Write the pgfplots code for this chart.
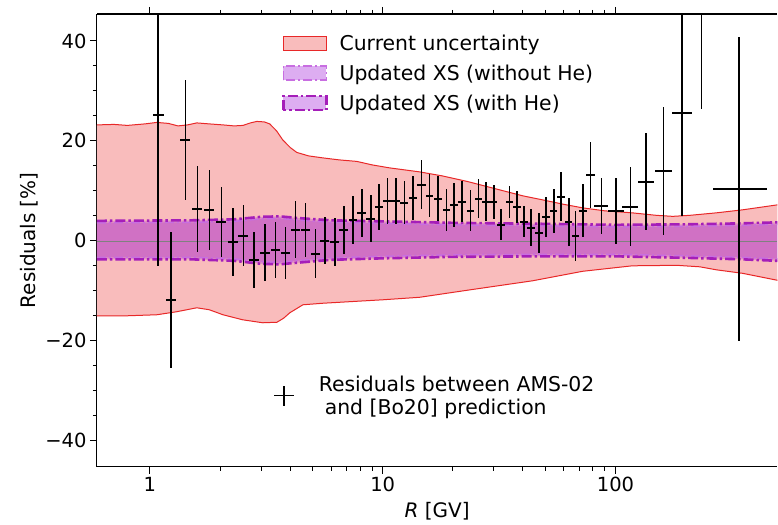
\documentclass[border=0pt]{standalone}
\usepackage{fontspec}
\setmainfont{DejaVu Sans}
\usepackage{pgfplots}
\pgfplotsset{compat=1.18}
\usepackage{pgfplotstable}
\usepgfplotslibrary{fillbetween}

\definecolor{bandred}{RGB}{249,188,188}
\definecolor{edgered}{RGB}{232,40,40}
\definecolor{xsviolet}{RGB}{148,0,211}
\definecolor{lineA}{RGB}{200,110,225}
\definecolor{lineB}{RGB}{165,30,185}

\pgfplotstableread{
R y ey exm exp
1.08 25.2 30.3 0.05 0.07
1.23 -11.8 13.6 0.06 0.06
1.42 20.2 12.0 0.07 0.07
1.60 6.4 8.6 0.08 0.08
1.80 6.2 8.0 0.09 0.09
2.03 3.8 7.0 0.10 0.10
2.28 -0.2 6.8 0.11 0.11
2.52 1.0 6.1 0.12 0.12
2.80 -3.8 5.6 0.13 0.13
3.12 -2.4 5.7 0.15 0.15
3.46 -1.8 5.6 0.16 0.16
3.82 -2.4 5.2 0.18 0.18
4.22 2.2 5.7 0.19 0.19
4.66 2.2 5.4 0.21 0.21
5.14 -2.6 4.9 0.23 0.23
5.64 0.0 4.7 0.25 0.25
6.22 -0.2 4.8 0.28 0.28
6.80 2.2 4.8 0.30 0.30
7.46 4.2 4.8 0.33 0.33
8.15 5.6 4.8 0.36 0.36
8.89 4.4 4.7 0.39 0.39
9.64 6.8 4.6 0.42 0.42
10.5 8.0 4.6 0.45 0.45
11.4 8.0 4.6 0.48 0.48
12.4 7.6 4.3 0.50 0.50
13.5 8.6 4.4 0.55 0.55
14.7 11.2 4.9 0.60 0.60
15.9 9.0 4.3 0.60 0.60
17.3 8.4 4.5 0.65 0.65
18.8 6.2 4.2 0.70 0.70
20.2 7.2 4.4 0.75 0.75
21.9 7.8 4.1 0.80 0.80
23.8 6.0 4.1 0.90 0.90
25.8 8.4 3.9 0.95 0.95
27.8 7.8 3.9 1.0 1.0
30.0 7.8 3.4 1.1 1.1
32.3 3.2 3.1 1.2 1.2
35.1 7.8 3.2 1.3 1.3
37.7 6.8 3.2 1.4 1.4
40.4 3.8 3.1 1.5 1.5
43.4 2.6 3.7 1.6 1.6
46.9 1.6 4.0 1.7 1.7
50.4 4.8 4.0 1.9 1.9
54.3 6.0 4.4 2.0 2.0
58.4 8.8 4.9 2.2 2.2
63.0 3.8 4.8 2.3 2.3
67.4 1.0 5.0 2.5 2.5
72.4 6.0 5.3 2.7 2.7
78.2 13.2 6.6 3.5 3.5
86.9 7.0 5.6 5.8 5.8
100.7 6.0 6.6 8 8
115.9 6.8 7.9 9 9
135.4 11.8 9.7 11 11
161 14.0 12.8 13.5 13.5
193 25.6 20.6 19 19
234 52 25.6 20 20
340 10.4 30.4 79 109
}\resdata

\begin{document}
\begin{tikzpicture}
\begin{axis}[
  at={(0pt,0pt)}, anchor=south west,
  width=681pt, height=453pt, scale only axis,
  xmode=log, xmin=0.592, xmax=496, ymin=-45.2, ymax=45.4,
  axis y line*=left,
  xtick={1,10,100}, xticklabels={1,10,100},
  ytick={-40,-20,0,20,40}, yticklabels={−40,−20,0,20,40},
  minor y tick num=3,
  tick align=outside, xtick pos=both, ytick pos=left,
  major tick length=7pt, minor tick length=4pt,
  tick style={black, line width=1pt},
  axis line style={black, line width=1.1pt, -},
  xlabel={\textit{R} [GV]}, ylabel={Residuals [\%]},
  xlabel style={yshift=-4pt},
  label style={font=\fontsize{20}{24}\selectfont},
  tick label style={font=\fontsize{19.5}{22}\selectfont},
  legend style={at={(0.2717,0.959)}, anchor=north west, draw=none, fill=none,
    font=\fontsize{20.4}{24}\selectfont, row sep=9pt, inner sep=0pt,
    /tikz/every odd column/.append style={column sep=10pt}},
  legend cell align=left,
]
% current uncertainty
\addplot[name path=RU, draw=edgered, line width=1pt, forget plot] coordinates {
(0.592,23.2) (0.7,23.3) (0.8,23.1) (0.95,23.4) (1.07,23.7) (1.2,23.5) (1.32,23.0) (1.45,23.2) (1.59,23.6) (1.8,23.4) (2.06,23.2) (2.3,23.0) (2.51,23.1) (2.7,23.6) (2.88,23.9) (3.1,23.8) (3.27,23.4) (3.5,22.0) (3.72,20.2) (4.0,18.7) (4.27,17.7) (4.8,17.0) (5.53,16.6) (6.5,16.2) (7.73,15.9) (9,15.2) (10.7,14.6) (14.4,13.8) (18,13.0) (23,11.9) (31.8,10.2) (40,9.0) (48.6,8.2) (60,7.3) (72.2,6.6) (90,6.0) (118,5.6) (150,5.1) (176,4.9) (208,5.1) (271,5.6) (351,6.2) (496,7.2)};
\addplot[name path=RL, draw=edgered, line width=1pt, forget plot] coordinates {
(0.592,-15.0) (0.8,-15.0) (1.07,-14.8) (1.3,-14.2) (1.59,-13.4) (1.8,-13.8) (2.06,-14.8) (2.5,-15.8) (3.05,-16.4) (3.51,-16.3) (3.75,-15.5) (3.99,-14.4) (4.54,-12.8) (5.5,-12.5) (7.73,-12.1) (10,-11.8) (14.4,-11.3) (23,-9.9) (44,-8.0) (72.2,-6.1) (118,-5.0) (183,-4.9) (230,-5.2) (271,-5.8) (351,-6.5) (496,-7.9)};
\addplot[fill=bandred, draw=none,
  legend image code/.code={\draw[fill=bandred, draw=edgered, line width=1pt] (0pt,-7pt) rectangle (43pt,7pt);}]
  fill between[of=RU and RL];
\addlegendentry{Current uncertainty}
% without He
\addplot[name path=AU, draw=lineA, line width=1.5pt, dash pattern=on 9pt off 3pt on 2pt off 3pt, forget plot] coordinates {
(0.592,3.6) (1.5,3.7) (2.3,3.9) (3.0,4.4) (3.6,4.5) (4.5,4.1) (6,3.7) (10,3.5) (20,3.2) (50,3.0) (100,2.8) (200,2.9) (350,3.1) (496,3.3)};
\addplot[name path=AL, draw=lineA, line width=1.5pt, dash pattern=on 9pt off 3pt on 2pt off 3pt, forget plot] coordinates {
(0.592,-3.3) (1.5,-3.3) (2.3,-3.6) (3.0,-4.2) (3.6,-4.3) (4.5,-3.9) (6,-3.4) (10,-3.1) (20,-2.8) (50,-2.7) (100,-2.7) (200,-3.0) (350,-3.3) (496,-3.6)};
\addplot[fill=xsviolet, fill opacity=0.22, draw=none,
  legend image code/.code={\draw[fill=xsviolet!32, fill opacity=1, draw=lineA, line width=1.5pt, dash pattern=on 9pt off 3pt on 2pt off 3pt] (0pt,-7pt) rectangle (43pt,7pt);}]
  fill between[of=AU and AL];
\addlegendentry{Updated XS (without He)}
% with He
\addplot[name path=BU, draw=lineB, line width=2.6pt, dash pattern=on 10pt off 3pt on 2.5pt off 3pt, forget plot] coordinates {
(0.592,4.0) (1.5,4.1) (2.3,4.3) (3.0,4.8) (3.6,4.9) (4.5,4.5) (6,4.1) (10,3.9) (20,3.6) (50,3.4) (100,3.2) (200,3.3) (350,3.5) (496,3.7)};
\addplot[name path=BL, draw=lineB, line width=2.6pt, dash pattern=on 10pt off 3pt on 2.5pt off 3pt, forget plot] coordinates {
(0.592,-3.7) (1.5,-3.7) (2.3,-4.0) (3.0,-4.6) (3.6,-4.7) (4.5,-4.3) (6,-3.8) (10,-3.5) (20,-3.2) (50,-3.1) (100,-3.1) (200,-3.4) (350,-3.7) (496,-4.0)};
\addplot[fill=xsviolet, fill opacity=0.22, draw=none,
  legend image code/.code={\draw[fill=xsviolet!32, fill opacity=1, draw=lineB, line width=2.6pt, dash pattern=on 10pt off 3pt on 2.5pt off 3pt] (0pt,-7pt) rectangle (43pt,7pt);}]
  fill between[of=BU and BL];
\addlegendentry{Updated XS (with He)}
% zero line
\addplot[gray, line width=0.6pt, forget plot] coordinates {(0.592,0) (496,0)};
% residuals
\addplot[draw=none, forget plot,
  error bars/.cd, x dir=both, x explicit, y dir=both, y explicit, error mark=none,
  error bar style={draw=black, solid, line width=1.6pt}]
  table[x=R, y=y, x error minus=exm, x error plus=exp, y error=ey] {\resdata};
\end{axis}
\begin{axis}[
  at={(0pt,0pt)}, anchor=south west,
  width=681pt, height=453pt, scale only axis, hide axis,
  xmin=0, xmax=1, ymin=0, ymax=1,
  legend style={at={(0.259,0.157)}, anchor=west, draw=none, fill=none, inner sep=0pt,
    font=\fontsize{20.4}{23}\selectfont, cells={align=left},
    /tikz/every odd column/.append style={column sep=22pt}},
  legend cell align=left,
]
\addplot[draw=none, forget plot] coordinates {(0,0) (1,1)};
\addlegendimage{legend image code/.code={\draw[black, line width=1.4pt] (0pt,0pt)--(20pt,0pt) (10pt,-10pt)--(10pt,10pt);}}
\addlegendentry{Residuals between AMS-02\\\hspace*{6pt}and [Bo20] prediction}
\end{axis}
\path (-97pt,-58pt) rectangle (681pt,467pt);
\end{tikzpicture}
\end{document}
